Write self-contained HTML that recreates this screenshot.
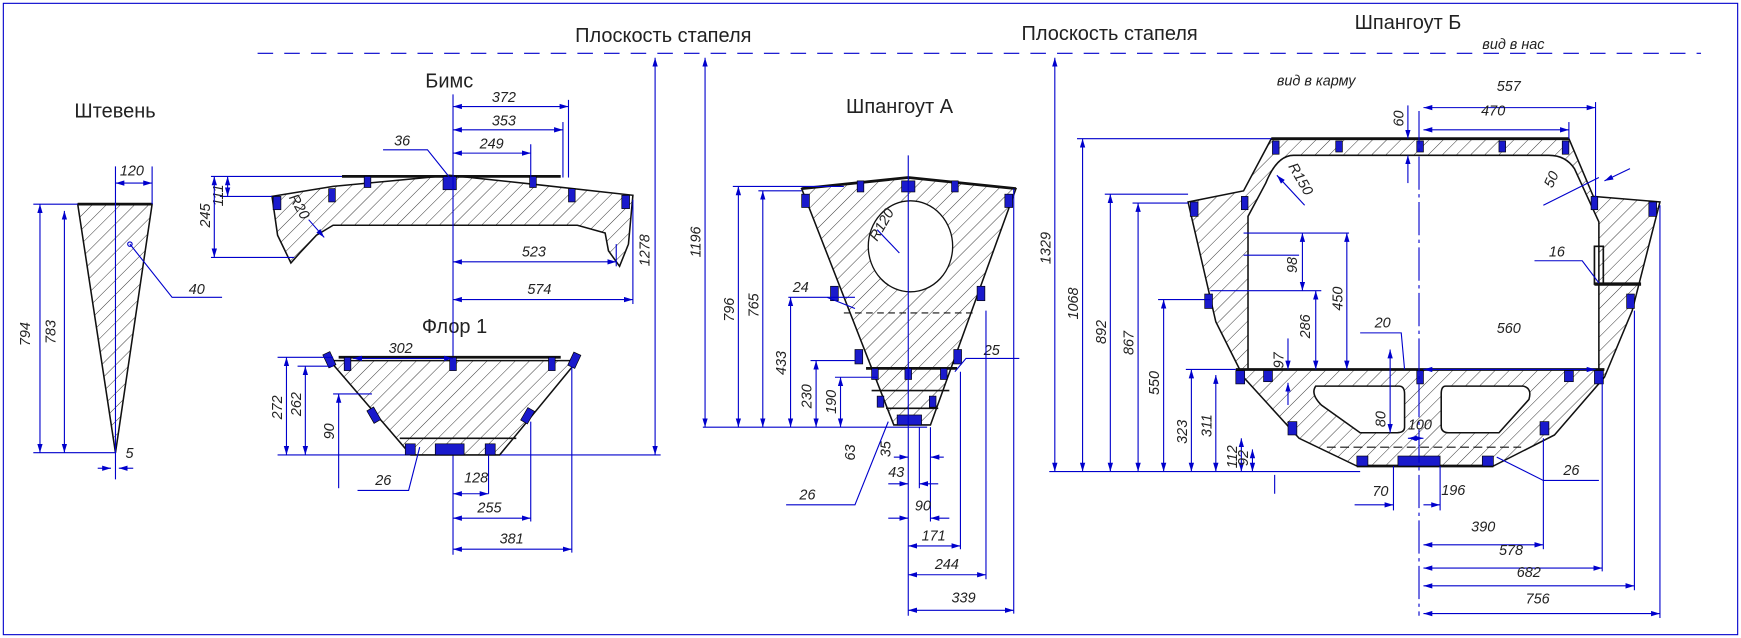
<!DOCTYPE html>
<html><head><meta charset="utf-8"><style>
html,body{margin:0;padding:0;background:#fff;}
svg{display:block;}
text{font-family:"Liberation Sans Narrow","Liberation Sans",sans-serif;font-style:italic;fill:#222;}
.t{font-size:18px;font-style:normal;}
.d{font-size:13px;}
.b{stroke:#0000cc;stroke-width:1;fill:none;}
.k{stroke:#111;stroke-width:1.2;}
.h{fill:url(#hatch);stroke:#111;stroke-width:1.4;}
.blk{fill:#1a1acc;stroke:#000;stroke-width:.6;}
</style></head><body>
<svg width="1741" height="638" viewBox="0 0 1568 575" preserveAspectRatio="none" xmlns="http://www.w3.org/2000/svg">
<defs>
<pattern id="hatch" patternUnits="userSpaceOnUse" width="9" height="9" patternTransform="rotate(45)">
<rect width="9" height="9" fill="#fff"/><line x1="0" y1="0" x2="0" y2="9" stroke="#222" stroke-width="0.8"/></pattern>
<marker id="a" viewBox="0 0 10 6" refX="10" refY="3" markerWidth="8" markerHeight="5" orient="auto-start-reverse" markerUnits="userSpaceOnUse"><path d="M0,0L10,3L0,6z" fill="#0000cc"/></marker>
</defs>
<rect x="3" y="3" width="1562" height="569" fill="none" stroke="#0000cc" stroke-width="1"/>
<line x1="232" y1="48" x2="1532" y2="48" stroke="#0000cc" stroke-width="1" stroke-dasharray="14,10"/>
<text class="t" x="518" y="38">Плоскость стапеля</text>
<text class="t" x="920" y="36">Плоскость стапеля</text>
<text class="t" x="1220" y="26">Шпангоут Б</text>
<text class="d" x="1335" y="44" font-size="11">вид в нас</text>
<text class="d" x="1150" y="77" font-size="11">вид в карму</text>
<text class="t" x="383" y="79">Бимс</text>
<text class="t" x="67" y="106">Штевень</text>
<text class="t" x="762" y="102">Шпангоут А</text>
<text class="t" x="380" y="300">Флор 1</text>

<!-- Штевень -->
<polygon class="h" points="70,184 137,184 104,408"/>
<line x1="70" y1="184" x2="137" y2="184" stroke="#111" stroke-width="2.5"/>
<line class="b" x1="104" y1="150" x2="104" y2="432"/>
<line class="b" x1="137" y1="150" x2="137" y2="184"/>
<line class="b" x1="30" y1="184" x2="70" y2="184"/><line class="b" x1="30" y1="408" x2="104" y2="408"/>
<line class="b" x1="36" y1="184" x2="36" y2="408" marker-start="url(#a)" marker-end="url(#a)"/>
<line class="b" x1="58" y1="190" x2="58" y2="408" marker-start="url(#a)" marker-end="url(#a)"/>
<line class="b" x1="104" y1="165" x2="137" y2="165" marker-start="url(#a)" marker-end="url(#a)"/>
<text class="d" x="108" y="158">120</text>
<text class="d" transform="translate(27,312) rotate(-90)">794</text>
<text class="d" transform="translate(50,310) rotate(-90)">783</text>
<line class="b" x1="88" y1="422" x2="100" y2="422" marker-end="url(#a)"/><line class="b" x1="120" y1="422" x2="107" y2="422" marker-end="url(#a)"/>
<text class="d" x="113" y="413">5</text>
<polyline class="b" points="117,220 155,268 200,268"/><text class="d" x="170" y="265">40</text>
<circle cx="117" cy="220" r="2" fill="none" stroke="#0000cc"/>

<!-- Бимс -->
<path class="h" d="M245,177 L300,168 L405,158 L480,166 L570,176 L566,220 L558,240 L548,226 L545,210 L520,203 L300,203 L285,212 L270,228 L262,237 L250,212 Z"/>
<line x1="308" y1="159" x2="505" y2="159" stroke="#111" stroke-width="2.5"/>
<rect class="blk" x="399" y="159" width="12" height="12"/><rect class="blk" x="328" y="159" width="6" height="10"/><rect class="blk" x="477" y="159" width="6" height="10"/>
<rect class="blk" x="246" y="177" width="7" height="12"/><rect class="blk" x="296" y="170" width="6" height="12"/><rect class="blk" x="512" y="170" width="6" height="12"/><rect class="blk" x="560" y="176" width="7" height="12"/>
<line class="b" x1="408" y1="85" x2="408" y2="500"/>
<line class="b" x1="512" y1="90" x2="512" y2="160"/><line class="b" x1="507" y1="110" x2="507" y2="160"/><line class="b" x1="478" y1="130" x2="478" y2="160"/>
<line class="b" x1="408" y1="96" x2="512" y2="96" marker-start="url(#a)" marker-end="url(#a)"/><text class="d" x="443" y="92">372</text>
<line class="b" x1="408" y1="117" x2="507" y2="117" marker-start="url(#a)" marker-end="url(#a)"/><text class="d" x="443" y="113">353</text>
<line class="b" x1="408" y1="138" x2="478" y2="138" marker-start="url(#a)" marker-end="url(#a)"/><text class="d" x="432" y="134">249</text>
<polyline class="b" points="405,160 385,135 345,135"/><text class="d" x="355" y="131">36</text>
<line class="b" x1="190" y1="159" x2="308" y2="159"/><line class="b" x1="198" y1="177" x2="245" y2="177"/><line class="b" x1="190" y1="232" x2="265" y2="232"/>
<line class="b" x1="205" y1="159" x2="205" y2="177" marker-start="url(#a)" marker-end="url(#a)"/><text class="d" transform="translate(201,186) rotate(-90)">111</text>
<line class="b" x1="193" y1="159" x2="193" y2="232" marker-start="url(#a)" marker-end="url(#a)"/><text class="d" transform="translate(189,205) rotate(-90)">245</text>
<text class="d" transform="translate(260,178) rotate(60)">R20</text><line class="b" x1="278" y1="198" x2="292" y2="214" marker-end="url(#a)"/>
<line class="b" x1="555" y1="220" x2="555" y2="240"/><line class="b" x1="570" y1="180" x2="570" y2="274"/>
<line class="b" x1="408" y1="236" x2="555" y2="236" marker-start="url(#a)" marker-end="url(#a)"/><text class="d" x="470" y="231">523</text>
<line class="b" x1="408" y1="270" x2="570" y2="270" marker-start="url(#a)" marker-end="url(#a)"/><text class="d" x="475" y="265">574</text>
<line class="b" x1="590" y1="52" x2="590" y2="410" marker-start="url(#a)" marker-end="url(#a)"/><text class="d" transform="translate(585,240) rotate(-90)">1278</text>
<line class="b" x1="250" y1="410" x2="595" y2="410"/>

<!-- Флор 1 -->
<path class="h" d="M297,325 L520,325 L450,410 L370,410 Z"/>
<line x1="305" y1="322" x2="505" y2="322" stroke="#111" stroke-width="2.5"/>
<line x1="360" y1="395" x2="465" y2="395" stroke="#111" stroke-width="1.5"/>
<rect class="blk" x="293" y="318" width="7" height="13" transform="rotate(-25 296 324)"/><rect class="blk" x="514" y="318" width="7" height="13" transform="rotate(25 517 324)"/>
<rect class="blk" x="310" y="322" width="6" height="12"/><rect class="blk" x="405" y="322" width="6" height="12"/><rect class="blk" x="494" y="322" width="6" height="12"/>
<rect class="blk" x="333" y="368" width="7" height="13" transform="rotate(-30 336 374)"/><rect class="blk" x="472" y="368" width="7" height="13" transform="rotate(30 475 374)"/>
<rect class="blk" x="365" y="400" width="9" height="10"/><rect class="blk" x="392" y="400" width="26" height="10"/><rect class="blk" x="437" y="400" width="9" height="10"/>
<line class="b" x1="318" y1="323" x2="408" y2="323" marker-start="url(#a)" marker-end="url(#a)"/><text class="d" x="350" y="318">302</text>
<line class="b" x1="250" y1="322" x2="300" y2="322"/><line class="b" x1="268" y1="330" x2="300" y2="330"/><line class="b" x1="300" y1="355" x2="335" y2="355"/>
<line class="b" x1="258" y1="322" x2="258" y2="410" marker-start="url(#a)" marker-end="url(#a)"/><text class="d" transform="translate(254,378) rotate(-90)">272</text>
<line class="b" x1="275" y1="330" x2="275" y2="410" marker-start="url(#a)" marker-end="url(#a)"/><text class="d" transform="translate(271,375) rotate(-90)">262</text>
<line class="b" x1="305" y1="355" x2="305" y2="440" marker-start="url(#a)"/><text class="d" transform="translate(301,396) rotate(-90)">90</text>
<polyline class="b" points="378,403 368,442 322,442"/><text class="d" x="338" y="437">26</text>
<line class="b" x1="440" y1="410" x2="440" y2="445"/><line class="b" x1="478" y1="380" x2="478" y2="470"/><line class="b" x1="515" y1="330" x2="515" y2="498"/>
<line class="b" x1="408" y1="445" x2="440" y2="445" marker-start="url(#a)" marker-end="url(#a)"/><text class="d" x="418" y="435">128</text>
<line class="b" x1="408" y1="467" x2="478" y2="467" marker-start="url(#a)" marker-end="url(#a)"/><text class="d" x="430" y="462">255</text>
<line class="b" x1="408" y1="495" x2="515" y2="495" marker-start="url(#a)" marker-end="url(#a)"/><text class="d" x="450" y="490">381</text>

<!-- Шпангоут А -->
<path class="h" d="M722,170 L818,160 L915,170 L838,383 L805,383 Z"/>
<ellipse cx="820" cy="222" rx="38" ry="41" fill="#fff" stroke="#111" stroke-width="1.2"/>
<polyline points="722,170 818,160 915,170" fill="none" stroke="#111" stroke-width="2.5"/>
<line x1="780" y1="332" x2="862" y2="332" stroke="#111" stroke-width="2.5"/>
<line x1="785" y1="352" x2="855" y2="352" stroke="#111" stroke-width="1.5"/>
<line x1="798" y1="368" x2="845" y2="368" stroke="#111" stroke-width="1.5"/>
<line x1="760" y1="282" x2="880" y2="282" stroke="#111" stroke-dasharray="6,4"/>
<rect class="blk" x="722" y="175" width="7" height="12"/><rect class="blk" x="772" y="163" width="6" height="10"/><rect class="blk" x="812" y="163" width="12" height="10"/><rect class="blk" x="857" y="163" width="6" height="10"/><rect class="blk" x="905" y="175" width="7" height="12"/>
<rect class="blk" x="748" y="258" width="7" height="13"/><rect class="blk" x="880" y="258" width="7" height="13"/><rect class="blk" x="770" y="315" width="7" height="13"/><rect class="blk" x="859" y="315" width="7" height="13"/>
<rect class="blk" x="785" y="332" width="6" height="10"/><rect class="blk" x="815" y="332" width="6" height="10"/><rect class="blk" x="847" y="332" width="6" height="10"/>
<rect class="blk" x="790" y="357" width="6" height="10"/><rect class="blk" x="837" y="357" width="6" height="10"/><rect class="blk" x="808" y="374" width="22" height="9"/>
<line class="b" x1="818" y1="140" x2="818" y2="555"/>
<line class="b" x1="790" y1="207" x2="810" y2="228"/><text class="d" transform="translate(790,218) rotate(-60)">R120</text>
<line class="b" x1="633" y1="385" x2="835" y2="385"/>
<line class="b" x1="635" y1="52" x2="635" y2="385" marker-start="url(#a)" marker-end="url(#a)"/><text class="d" transform="translate(631,232) rotate(-90)">1196</text>
<line class="b" x1="660" y1="168" x2="760" y2="168"/><line class="b" x1="683" y1="172" x2="722" y2="172"/>
<line class="b" x1="665" y1="168" x2="665" y2="385" marker-start="url(#a)" marker-end="url(#a)"/><text class="d" transform="translate(661,290) rotate(-90)">796</text>
<line class="b" x1="687" y1="172" x2="687" y2="385" marker-start="url(#a)" marker-end="url(#a)"/><text class="d" transform="translate(683,286) rotate(-90)">765</text>
<line class="b" x1="710" y1="268" x2="770" y2="268"/><text class="d" x="714" y="263">24</text><line class="b" x1="745" y1="268" x2="770" y2="278"/>
<line class="b" x1="712" y1="268" x2="712" y2="385" marker-start="url(#a)" marker-end="url(#a)"/><text class="d" transform="translate(708,338) rotate(-90)">433</text>
<line class="b" x1="730" y1="325" x2="770" y2="325"/><line class="b" x1="752" y1="340" x2="790" y2="340"/>
<line class="b" x1="735" y1="325" x2="735" y2="385" marker-start="url(#a)" marker-end="url(#a)"/><text class="d" transform="translate(731,368) rotate(-90)">230</text>
<line class="b" x1="757" y1="340" x2="757" y2="385" marker-start="url(#a)" marker-end="url(#a)"/><text class="d" transform="translate(753,373) rotate(-90)">190</text>
<text class="d" transform="translate(770,415) rotate(-90)">63</text><text class="d" transform="translate(802,412) rotate(-90)">35</text>
<polyline class="b" points="860,335 870,323 918,323"/><text class="d" x="886" y="320">25</text>
<polyline class="b" points="800,380 770,455 708,455"/><text class="d" x="720" y="450">26</text>
<line class="b" x1="838" y1="385" x2="838" y2="470"/><line class="b" x1="828" y1="385" x2="828" y2="440"/>
<line class="b" x1="865" y1="335" x2="865" y2="495"/><line class="b" x1="888" y1="280" x2="888" y2="522"/><line class="b" x1="913" y1="170" x2="913" y2="553"/>
<line class="b" x1="805" y1="412" x2="818" y2="412" marker-end="url(#a)"/><line class="b" x1="850" y1="412" x2="838" y2="412" marker-end="url(#a)"/>
<line class="b" x1="800" y1="436" x2="818" y2="436" marker-end="url(#a)"/><line class="b" x1="845" y1="436" x2="828" y2="436" marker-end="url(#a)"/><text class="d" x="800" y="430">43</text>
<line class="b" x1="800" y1="467" x2="818" y2="467" marker-end="url(#a)"/><line class="b" x1="855" y1="467" x2="838" y2="467" marker-end="url(#a)"/><text class="d" x="824" y="460">90</text>
<line class="b" x1="818" y1="492" x2="865" y2="492" marker-start="url(#a)" marker-end="url(#a)"/><text class="d" x="830" y="487">171</text>
<line class="b" x1="818" y1="518" x2="888" y2="518" marker-start="url(#a)" marker-end="url(#a)"/><text class="d" x="842" y="513">244</text>
<line class="b" x1="818" y1="550" x2="913" y2="550" marker-start="url(#a)" marker-end="url(#a)"/><text class="d" x="857" y="543">339</text>

<!-- Шпангоут Б -->
<path class="h" fill-rule="evenodd" d="M1145,125 L1413,125 L1435,177 L1495,182 L1470,280 L1445,340 L1400,392 L1345,420 L1222,420 L1170,395 L1120,340 L1095,290 L1070,182 L1120,172 Z
M1165,140 L1395,140 Q1410,140 1418,152 L1440,200 L1440,333 L1124,333 L1124,195 L1140,165 Q1150,140 1165,140 Z
M1185,348 L1260,348 Q1265,348 1265,355 L1265,385 Q1265,390 1258,390 L1225,390 L1190,365 Q1180,355 1185,348 Z
M1302,348 L1372,348 Q1380,350 1377,360 L1350,390 L1305,390 Q1298,390 1298,384 L1298,355 Q1298,348 1302,348 Z"/>
<line x1="1145" y1="125" x2="1413" y2="125" stroke="#111" stroke-width="2.5"/>
<line x1="1113" y1="333" x2="1445" y2="333" stroke="#111" stroke-width="2.5"/>
<line x1="1195" y1="403" x2="1370" y2="403" stroke="#111" stroke-width="1" stroke-dasharray="8,4"/>
<line x1="1222" y1="420" x2="1345" y2="420" stroke="#111" stroke-width="2.5"/>
<rect x="1436" y="222" width="8" height="34" fill="none" stroke="#111" stroke-width="1.5"/><line x1="1436" y1="256" x2="1478" y2="256" stroke="#111" stroke-width="3"/>
<rect class="blk" x="1146" y="127" width="6" height="12"/><rect class="blk" x="1203" y="127" width="6" height="10"/><rect class="blk" x="1276" y="127" width="6" height="10"/><rect class="blk" x="1350" y="127" width="6" height="10"/><rect class="blk" x="1407" y="127" width="6" height="12"/>
<rect class="blk" x="1118" y="177" width="6" height="12"/><rect class="blk" x="1433" y="177" width="6" height="12"/><rect class="blk" x="1072" y="182" width="7" height="13"/><rect class="blk" x="1485" y="182" width="7" height="13"/>
<rect class="blk" x="1085" y="265" width="7" height="13"/><rect class="blk" x="1465" y="265" width="7" height="13"/>
<rect class="blk" x="1113" y="334" width="8" height="12"/><rect class="blk" x="1138" y="334" width="8" height="10"/><rect class="blk" x="1276" y="334" width="6" height="12"/><rect class="blk" x="1409" y="334" width="8" height="10"/><rect class="blk" x="1436" y="334" width="8" height="12"/>
<rect class="blk" x="1160" y="380" width="8" height="12"/><rect class="blk" x="1387" y="380" width="8" height="12"/>
<rect class="blk" x="1222" y="411" width="10" height="9"/><rect class="blk" x="1259" y="411" width="38" height="9"/><rect class="blk" x="1335" y="411" width="10" height="9"/>
<line class="b" x1="1278" y1="100" x2="1278" y2="555" stroke-dasharray="30,4,3,4"/>
<line class="b" x1="945" y1="425" x2="1225" y2="425"/>
<line class="b" x1="950" y1="52" x2="950" y2="425" marker-start="url(#a)" marker-end="url(#a)"/><text class="d" transform="translate(946,238) rotate(-90)">1329</text>
<line class="b" x1="970" y1="125" x2="1145" y2="125"/>
<line class="b" x1="975" y1="125" x2="975" y2="425" marker-start="url(#a)" marker-end="url(#a)"/><text class="d" transform="translate(971,288) rotate(-90)">1068</text>
<line class="b" x1="995" y1="175" x2="1070" y2="175"/><line class="b" x1="1020" y1="183" x2="1070" y2="183"/>
<line class="b" x1="1000" y1="175" x2="1000" y2="425" marker-start="url(#a)" marker-end="url(#a)"/><text class="d" transform="translate(996,310) rotate(-90)">892</text>
<line class="b" x1="1025" y1="183" x2="1025" y2="425" marker-start="url(#a)" marker-end="url(#a)"/><text class="d" transform="translate(1021,320) rotate(-90)">867</text>
<line class="b" x1="1043" y1="270" x2="1090" y2="270"/>
<line class="b" x1="1048" y1="270" x2="1048" y2="425" marker-start="url(#a)" marker-end="url(#a)"/><text class="d" transform="translate(1044,356) rotate(-90)">550</text>
<line class="b" x1="1068" y1="333" x2="1113" y2="333"/>
<line class="b" x1="1073" y1="333" x2="1073" y2="425" marker-start="url(#a)" marker-end="url(#a)"/><text class="d" transform="translate(1069,400) rotate(-90)">323</text>
<line class="b" x1="1095" y1="338" x2="1095" y2="425" marker-start="url(#a)" marker-end="url(#a)"/><text class="d" transform="translate(1091,394) rotate(-90)">311</text>
<line class="b" x1="1118" y1="395" x2="1118" y2="425" marker-start="url(#a)" marker-end="url(#a)"/><text class="d" transform="translate(1114,422) rotate(-90)">112</text>
<line class="b" x1="1128" y1="405" x2="1128" y2="425" marker-start="url(#a)" marker-end="url(#a)"/><text class="d" transform="translate(1124,420) rotate(-90)">92</text>
<line class="b" x1="1282" y1="97" x2="1437" y2="97" marker-start="url(#a)" marker-end="url(#a)"/><text class="d" x="1348" y="82">557</text>
<line class="b" x1="1282" y1="117" x2="1413" y2="117" marker-start="url(#a)" marker-end="url(#a)"/><text class="d" x="1334" y="104">470</text>
<line class="b" x1="1437" y1="92" x2="1437" y2="178"/><line class="b" x1="1413" y1="110" x2="1413" y2="125"/>
<line class="b" x1="1268" y1="95" x2="1268" y2="125" marker-end="url(#a)"/><line class="b" x1="1268" y1="165" x2="1268" y2="140" marker-end="url(#a)"/><text class="d" transform="translate(1264,114) rotate(-90)">60</text>
<text class="d" transform="translate(1160,150) rotate(60)">R150</text><line class="b" x1="1175" y1="185" x2="1150" y2="158" marker-end="url(#a)"/>
<line class="b" x1="1390" y1="185" x2="1440" y2="160"/><line class="b" x1="1468" y1="152" x2="1445" y2="163" marker-end="url(#a)"/><text class="d" transform="translate(1398,170) rotate(-65)">50</text>
<polyline class="b" points="1382,235 1425,235 1440,255"/><text class="d" x="1395" y="231">16</text>
<line class="b" x1="1120" y1="210" x2="1215" y2="210"/><line class="b" x1="1120" y1="230" x2="1170" y2="230"/><line class="b" x1="1090" y1="262" x2="1190" y2="262"/>
<line class="b" x1="1173" y1="210" x2="1173" y2="262" marker-start="url(#a)" marker-end="url(#a)"/><text class="d" transform="translate(1168,246) rotate(-90)">98</text>
<line class="b" x1="1185" y1="262" x2="1185" y2="333" marker-start="url(#a)" marker-end="url(#a)"/><text class="d" transform="translate(1180,305) rotate(-90)">286</text>
<line class="b" x1="1213" y1="210" x2="1213" y2="333" marker-start="url(#a)" marker-end="url(#a)"/><text class="d" transform="translate(1209,280) rotate(-90)">450</text>
<line class="b" x1="1160" y1="305" x2="1160" y2="333" marker-end="url(#a)"/><line class="b" x1="1160" y1="365" x2="1160" y2="345" marker-end="url(#a)"/><text class="d" transform="translate(1156,332) rotate(-90)">97</text>
<polyline class="b" points="1225,300 1262,300 1265,333"/><text class="d" x="1238" y="295">20</text>
<line class="b" x1="1252" y1="315" x2="1252" y2="390" marker-start="url(#a)" marker-end="url(#a)"/><text class="d" transform="translate(1248,385) rotate(-90)">80</text>
<line class="b" x1="1268" y1="395" x2="1282" y2="395" marker-start="url(#a)" marker-end="url(#a)"/><text class="d" x="1268" y="387">100</text>
<line class="b" x1="1282" y1="333" x2="1437" y2="333" marker-start="url(#a)" marker-end="url(#a)"/><text class="d" x="1348" y="300">560</text>
<polyline class="b" points="1348,412 1390,433 1440,433"/><text class="d" x="1408" y="428">26</text>
<line class="b" x1="1148" y1="428" x2="1148" y2="445"/>
<line class="b" x1="1255" y1="420" x2="1255" y2="460"/><line class="b" x1="1297" y1="420" x2="1297" y2="460"/>
<line class="b" x1="1220" y1="455" x2="1255" y2="455" marker-end="url(#a)"/><line class="b" x1="1282" y1="455" x2="1297" y2="455" marker-end="url(#a)"/><text class="d" x="1236" y="447">70</text><text class="d" x="1298" y="446">196</text>
<line class="b" x1="1390" y1="395" x2="1390" y2="495"/><line class="b" x1="1443" y1="340" x2="1443" y2="515"/><line class="b" x1="1472" y1="280" x2="1472" y2="532"/><line class="b" x1="1495" y1="185" x2="1495" y2="557"/>
<line class="b" x1="1282" y1="491" x2="1390" y2="491" marker-start="url(#a)" marker-end="url(#a)"/><text class="d" x="1325" y="479">390</text>
<line class="b" x1="1282" y1="512" x2="1443" y2="512" marker-start="url(#a)" marker-end="url(#a)"/><text class="d" x="1350" y="500">578</text>
<line class="b" x1="1282" y1="528" x2="1472" y2="528" marker-start="url(#a)" marker-end="url(#a)"/><text class="d" x="1366" y="520">682</text>
<line class="b" x1="1282" y1="553" x2="1495" y2="553" marker-start="url(#a)" marker-end="url(#a)"/><text class="d" x="1374" y="544">756</text>
</svg>
</body></html>
